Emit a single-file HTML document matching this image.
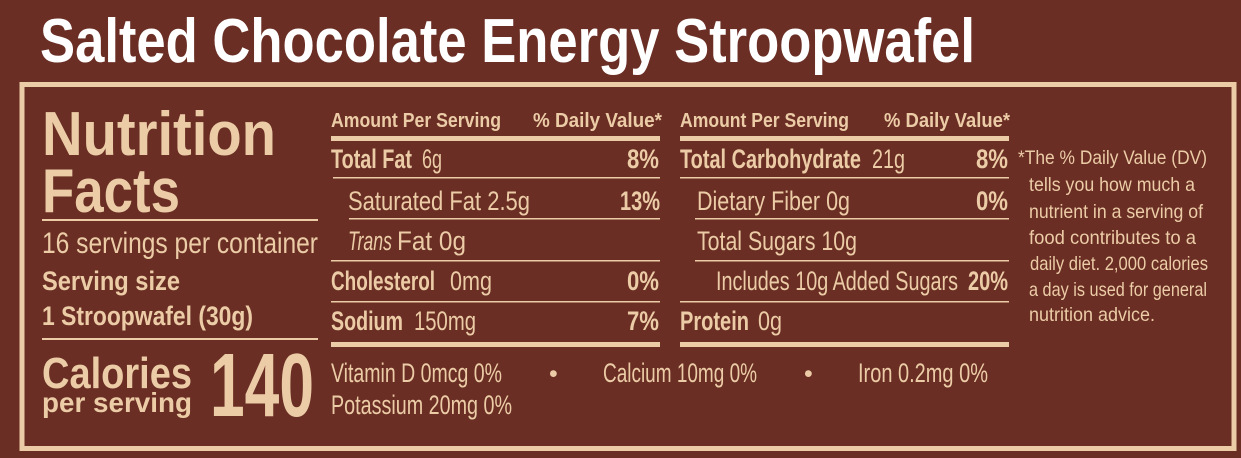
<!DOCTYPE html>
<html><head><meta charset="utf-8"><style>
html,body{margin:0;padding:0;background:#6a2e24;}
svg{display:block;}
text{font-family:"Liberation Sans",sans-serif;fill:#ecccA6;}
.b{font-weight:bold;}
</style></head><body>
<svg width="1241" height="458" viewBox="0 0 1241 458" xmlns="http://www.w3.org/2000/svg">
<rect width="1241" height="458" fill="#6a2e24"/>
<text x="40" y="62" font-size="62" class="b" style="fill:#fff" textLength="935" lengthAdjust="spacingAndGlyphs">Salted Chocolate Energy Stroopwafel</text>
<rect x="22" y="84.5" width="1212" height="364" fill="none" stroke="#ecccA6" stroke-width="5"/>
<g fill="#ecccA6">
<rect x="42" y="219" width="276" height="2"/>
<rect x="42" y="338" width="276" height="2"/>
<rect x="331" y="136" width="329" height="5"/>
<rect x="680" y="136" width="329" height="5"/>
<rect x="331" y="342" width="329" height="5"/>
<rect x="680" y="342" width="329" height="5"/>
<rect x="333" y="177" width="327" height="1.5"/>
<rect x="349" y="218" width="311" height="1.5"/>
<rect x="331" y="260" width="329" height="1.5"/>
<rect x="331" y="301" width="329" height="1.5"/>
<rect x="680" y="177" width="329" height="1.5"/>
<rect x="695" y="218" width="314" height="1.5"/>
<rect x="695" y="260" width="314" height="1.5"/>
<rect x="680" y="301" width="329" height="1.5"/>
</g>
<text x="42" y="155" font-size="62" class="b" textLength="234" lengthAdjust="spacingAndGlyphs">Nutrition</text>
<text x="42" y="212" font-size="62" class="b" textLength="138" lengthAdjust="spacingAndGlyphs">Facts</text>
<text x="42" y="253" font-size="30" textLength="276" lengthAdjust="spacingAndGlyphs">16 servings per container</text>
<text x="42" y="290" font-size="27" class="b" textLength="138" lengthAdjust="spacingAndGlyphs">Serving size</text>
<text x="42" y="325" font-size="27" class="b" textLength="211" lengthAdjust="spacingAndGlyphs">1 Stroopwafel (30g)</text>
<text x="42" y="388" font-size="44" class="b" textLength="150" lengthAdjust="spacingAndGlyphs">Calories</text>
<text x="42" y="412" font-size="28" class="b" textLength="150" lengthAdjust="spacingAndGlyphs">per serving</text>
<text x="210" y="416" font-size="90" class="b" textLength="104" lengthAdjust="spacingAndGlyphs">140</text>

<text x="331" y="127" font-size="20" class="b" textLength="170" lengthAdjust="spacingAndGlyphs">Amount Per Serving</text>
<text x="533" y="127" font-size="20" class="b" textLength="129" lengthAdjust="spacingAndGlyphs">% Daily Value*</text>
<text x="680" y="127" font-size="20" class="b" textLength="169" lengthAdjust="spacingAndGlyphs">Amount Per Serving</text>
<text x="884" y="127" font-size="20" class="b" textLength="126" lengthAdjust="spacingAndGlyphs">% Daily Value*</text>

<text x="331" y="168" font-size="27" class="b" textLength="81" lengthAdjust="spacingAndGlyphs">Total Fat</text>
<text x="422" y="168" font-size="27" textLength="20" lengthAdjust="spacingAndGlyphs">6g</text>
<text x="627" y="168" font-size="27" class="b" textLength="32" lengthAdjust="spacingAndGlyphs">8%</text>
<text x="348" y="210" font-size="27" textLength="182" lengthAdjust="spacingAndGlyphs">Saturated Fat  2.5g</text>
<text x="620" y="210" font-size="27" class="b" textLength="40" lengthAdjust="spacingAndGlyphs">13%</text>
<text x="348" y="250" font-size="27" font-style="italic" textLength="44" lengthAdjust="spacingAndGlyphs">Trans</text>
<text x="397" y="250" font-size="27" textLength="69" lengthAdjust="spacingAndGlyphs">Fat 0g</text>
<text x="331" y="290" font-size="27" class="b" textLength="104" lengthAdjust="spacingAndGlyphs">Cholesterol</text>
<text x="450" y="290" font-size="27" textLength="42" lengthAdjust="spacingAndGlyphs">0mg</text>
<text x="627" y="290" font-size="27" class="b" textLength="32" lengthAdjust="spacingAndGlyphs">0%</text>
<text x="331" y="330" font-size="27" class="b" textLength="72" lengthAdjust="spacingAndGlyphs">Sodium</text>
<text x="414" y="330" font-size="27" textLength="62" lengthAdjust="spacingAndGlyphs">150mg</text>
<text x="627" y="330" font-size="27" class="b" textLength="32" lengthAdjust="spacingAndGlyphs">7%</text>

<text x="680" y="168" font-size="27" class="b" textLength="181" lengthAdjust="spacingAndGlyphs">Total Carbohydrate</text>
<text x="872" y="168" font-size="27" textLength="33" lengthAdjust="spacingAndGlyphs">21g</text>
<text x="976" y="168" font-size="27" class="b" textLength="32" lengthAdjust="spacingAndGlyphs">8%</text>
<text x="697" y="210" font-size="27" textLength="153" lengthAdjust="spacingAndGlyphs">Dietary Fiber 0g</text>
<text x="976" y="210" font-size="27" class="b" textLength="32" lengthAdjust="spacingAndGlyphs">0%</text>
<text x="697" y="250" font-size="27" textLength="160" lengthAdjust="spacingAndGlyphs">Total Sugars 10g</text>
<text x="716" y="290" font-size="27" textLength="242" lengthAdjust="spacingAndGlyphs">Includes 10g Added Sugars</text>
<text x="968" y="290" font-size="27" class="b" textLength="40" lengthAdjust="spacingAndGlyphs">20%</text>
<text x="680" y="330" font-size="27" class="b" textLength="69" lengthAdjust="spacingAndGlyphs">Protein</text>
<text x="758" y="330" font-size="27" textLength="24" lengthAdjust="spacingAndGlyphs">0g</text>

<text x="331" y="382" font-size="27" textLength="171" lengthAdjust="spacingAndGlyphs">Vitamin D 0mcg 0%</text>
<text x="549" y="382" font-size="25">•</text>
<text x="603" y="382" font-size="27" textLength="154" lengthAdjust="spacingAndGlyphs">Calcium 10mg 0%</text>
<text x="804" y="382" font-size="25">•</text>
<text x="858" y="382" font-size="27" textLength="130" lengthAdjust="spacingAndGlyphs">Iron 0.2mg 0%</text>
<text x="331" y="414" font-size="27" textLength="181" lengthAdjust="spacingAndGlyphs">Potassium 20mg 0%</text>

<g font-size="19.5">
<text x="1018" y="164" textLength="189" lengthAdjust="spacingAndGlyphs">*The % Daily Value (DV)</text>
<text x="1029" y="191" textLength="166" lengthAdjust="spacingAndGlyphs">tells you how much a</text>
<text x="1029" y="218" textLength="174" lengthAdjust="spacingAndGlyphs">nutrient in a serving of</text>
<text x="1029" y="244" textLength="167" lengthAdjust="spacingAndGlyphs">food contributes to a</text>
<text x="1030" y="270" textLength="178" lengthAdjust="spacingAndGlyphs">daily diet. 2,000 calories</text>
<text x="1029" y="296" textLength="178" lengthAdjust="spacingAndGlyphs">a day is used for general</text>
<text x="1029" y="321" textLength="126" lengthAdjust="spacingAndGlyphs">nutrition advice.</text>
</g>
</svg>
</body></html>
